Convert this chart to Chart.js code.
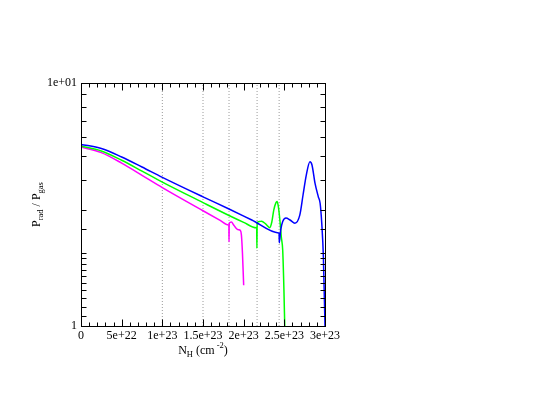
<!DOCTYPE html>
<html lang="en">
<head>
    <meta charset="UTF-8">
    <title>Prad / Pgas vs column density</title>
    <script src="https://cdn.jsdelivr.net/npm/chart.js@4.4.0/dist/chart.umd.min.js"></script>
    <style>
        body {
            margin: 0;
            background: #fff;
        }
        canvas {
            display: block;
        }
    </style>
</head>
<body>
    <canvas id="chart" width="543" height="420"></canvas>

    <script>
        // Column density (cm^-2) and P_rad / P_gas for the three runs
        const blueN = [0, 0.25e23, 0.5e23, 0.75e23, 1.0e23, 1.5e23, 1.82e23, 2.1e23, 2.43e23, 2.436e23, 2.438e23, 2.455e23,
            2.48e23, 2.52e23, 2.57e23, 2.63e23, 2.69e23, 2.73e23, 2.77e23, 2.815e23, 2.84e23, 2.877e23,
            2.918e23, 2.94e23, 2.96e23, 2.98e23, 3.0e23];
        const blueRatio = [5.59, 5.38, 4.96, 4.51, 4.09, 3.40, 3.03, 2.73, 2.415, 2.41, 2.20, 2.48,
            2.69, 2.78, 2.73, 2.65, 2.86, 3.46, 4.18, 4.74, 4.60, 3.87,
            3.40, 3.20, 2.65, 1.93, 1.0];

        const greenN = [0, 0.25e23, 0.5e23, 0.75e23, 1.0e23, 1.5e23, 1.82e23, 2.0e23, 2.155e23, 2.16e23, 2.163e23, 2.166e23,
            2.19e23, 2.22e23, 2.27e23, 2.32e23, 2.346e23, 2.37e23, 2.396e23, 2.41e23, 2.427e23, 2.445e23,
            2.463e23, 2.48e23, 2.495e23, 2.505e23];
        const greenRatio = [5.50, 5.25, 4.81, 4.34, 3.91, 3.22, 2.85, 2.67, 2.535, 2.53, 2.09, 2.66,
            2.69, 2.70, 2.63, 2.54, 2.68, 3.00, 3.21, 3.25, 3.09, 2.73,
            2.32, 2.05, 1.41, 1.0];

        const magentaN = [0, 0.25e23, 0.5e23, 0.75e23, 1.0e23, 1.5e23, 1.7e23, 1.815e23, 1.818e23, 1.82e23, 1.823e23, 1.85e23,
            1.875e23, 1.91e23, 1.935e23, 1.96e23, 1.972e23, 1.985e23, 2.0e23];
        const magentaRatio = [5.45, 5.17, 4.68, 4.17, 3.71, 2.98, 2.735, 2.605, 2.60, 2.22, 2.65, 2.68,
            2.61, 2.52, 2.49, 2.47, 2.37, 2.00, 1.47];

        // dotted vertical markers
        const markerN = [1.0e23, 1.5e23, 1.82e23, 2.165e23, 2.436e23];

        const xTickLabels = ['0', '5e+22', '1e+23', '1.5e+23', '2e+23', '2.5e+23', '3e+23'];
        const yTickLabels = { 1: '1', 10: '1e+01' };

        const serif = '"Liberation Serif", "DejaVu Serif", serif';

        function toPoints(xs, ys) {
            return xs.map((v, i) => ({ x: v, y: ys[i] }));
        }

        function curve(xs, ys, color) {
            return {
                data: toPoints(xs, ys),
                showLine: true,
                borderColor: color,
                borderWidth: 1.5,
                pointRadius: 0,
                fill: false,
                cubicInterpolationMode: 'monotone'
            };
        }

        const datasets = [
            curve(blueN, blueRatio, '#0000ff'),
            curve(greenN, greenRatio, '#00ff00'),
            curve(magentaN, magentaRatio, '#ff00ff')
        ];
        markerN.forEach(v => {
            datasets.push({
                data: [{ x: v, y: 1 }, { x: v, y: 10 }],
                showLine: true,
                borderColor: '#9a9a9a',
                borderWidth: 1,
                borderDash: [1, 2],
                pointRadius: 0
            });
        });

        // draws text with sub/superscript pieces
        function drawRich(ctx, parts, x, y) {
            let cx = x;
            parts.forEach(p => {
                ctx.font = (p.small ? '8.5px ' : '12px ') + serif;
                ctx.fillText(p.t, cx, y + (p.dy || 0));
                cx += ctx.measureText(p.t).width;
            });
        }
        function richWidth(ctx, parts) {
            let w = 0;
            parts.forEach(p => {
                ctx.font = (p.small ? '8.5px ' : '12px ') + serif;
                w += ctx.measureText(p.t).width;
            });
            return w;
        }

        const frame = {
            id: 'frame',
            afterDraw(chart) {
                const { ctx, chartArea: a, scales: { x, y } } = chart;
                ctx.save();
                ctx.strokeStyle = '#000';
                ctx.lineWidth = 1;
                const L = Math.round(a.left) + 0.5, R = Math.round(a.right) + 0.5;
                const T = Math.round(a.top) + 0.5, B = Math.round(a.bottom) + 0.5;
                ctx.strokeRect(L, T, R - L, B - T);

                ctx.beginPath();
                x.ticks.forEach(t => {
                    const px = Math.round(x.getPixelForValue(t.value)) + 0.5;
                    const len = t.label ? 7 : 4;
                    ctx.moveTo(px, B); ctx.lineTo(px, B - len);
                    ctx.moveTo(px, T); ctx.lineTo(px, T + len);
                });
                y.ticks.forEach(t => {
                    if (t.value === 1 || t.value === 10) return;
                    const py = Math.round(y.getPixelForValue(t.value)) + 0.5;
                    ctx.moveTo(L, py); ctx.lineTo(L + 5, py);
                    ctx.moveTo(R, py); ctx.lineTo(R - 5, py);
                });
                ctx.stroke();

                // axis titles
                ctx.fillStyle = '#000';
                ctx.textBaseline = 'alphabetic';
                ctx.textAlign = 'left';
                const xTitle = [
                    { t: 'N' }, { t: 'H', small: true, dy: 3 }, { t: ' (cm' },
                    { t: ' -2', small: true, dy: -6 }, { t: ')' }
                ];
                const xw = richWidth(ctx, xTitle);
                drawRich(ctx, xTitle, (a.left + a.right) / 2 - xw / 2, 354);

                const yTitle = [
                    { t: 'P' }, { t: 'rad', small: true, dy: 3 }, { t: ' / P' },
                    { t: 'gas', small: true, dy: 3 }
                ];
                const yw = richWidth(ctx, yTitle);
                ctx.translate(39.5, (a.top + a.bottom) / 2);
                ctx.rotate(-Math.PI / 2);
                drawRich(ctx, yTitle, -yw / 2, 0);
                ctx.restore();
            }
        };

        new Chart(document.getElementById('chart'), {
            type: 'scatter',
            data: { datasets },
            options: {
                responsive: false,
                animation: false,
                layout: { padding: { left: 0, right: 218, top: 83, bottom: 0 } },
                plugins: {
                    legend: { display: false },
                    tooltip: { enabled: false }
                },
                scales: {
                    x: {
                        type: 'linear',
                        min: 0,
                        max: 3e23,
                        afterFit: s => { s.height = 94; },
                        border: { display: false },
                        grid: { display: false, drawTicks: false },
                        ticks: {
                            stepSize: 1e22,
                            autoSkip: false,
                            maxRotation: 0,
                            padding: 3,
                            color: '#000',
                            font: { family: serif, size: 12 },
                            callback: v => {
                                const k = Math.round(v / 1e22);
                                return k % 5 === 0 ? xTickLabels[k / 5] : '';
                            }
                        }
                    },
                    y: {
                        type: 'logarithmic',
                        min: 1,
                        max: 10,
                        afterFit: s => { s.width = 81; },
                        border: { display: false },
                        grid: { display: false, drawTicks: false },
                        ticks: {
                            autoSkip: false,
                            padding: 4,
                            color: '#000',
                            font: { family: serif, size: 12 },
                            callback: v => yTickLabels[v] || ''
                        }
                    }
                }
            },
            plugins: [frame]
        });
    </script>
</body>
</html>
